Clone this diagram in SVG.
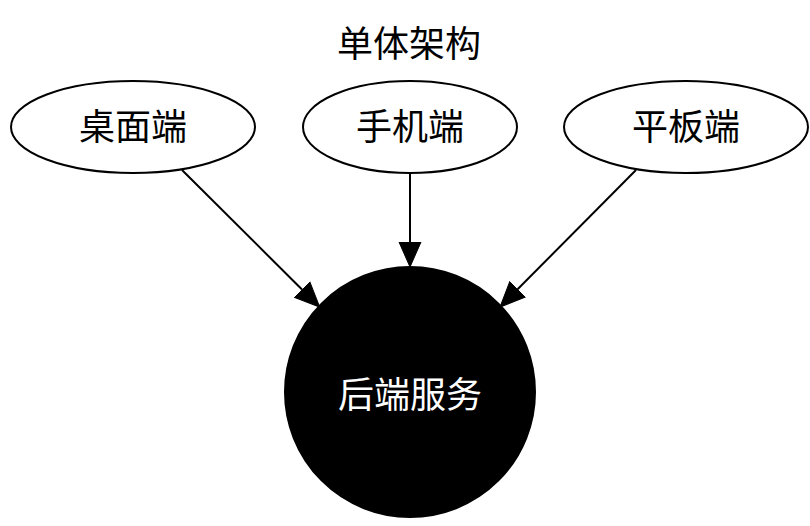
<svg xmlns="http://www.w3.org/2000/svg" width="810" height="526" viewBox="0 0 810 526">
<style>
.bg{fill:#fff}
.node ellipse{fill:#fff;stroke:#000;stroke-width:2}
.t{font-family:"Liberation Serif","Noto Sans CJK SC",serif;font-size:36px;text-anchor:middle;fill:#000}
.edge{fill:none;stroke:#000;stroke-width:2}
</style>
<defs>
<marker id="arr" markerUnits="userSpaceOnUse" markerWidth="26" markerHeight="24" refX="0" refY="12" orient="auto">
<path d="M0,1 L25,12 L0,23 z" fill="#000" stroke="#000" stroke-width="1"/>
</marker>
</defs>
<rect class="bg" width="810" height="526"/>
<text class="t" x="409" y="57">单体架构</text>
<g id="desktop" class="node"><ellipse cx="133" cy="127" rx="122" ry="46"/><text class="t" x="133" y="140">桌面端</text></g>
<g id="mobile" class="node"><ellipse cx="410" cy="127" rx="107" ry="46"/><text class="t" x="410" y="140">手机端</text></g>
<g id="tablet" class="node"><ellipse cx="686" cy="127" rx="122" ry="46"/><text class="t" x="686" y="140">平板端</text></g>
<g id="backend"><circle cx="410" cy="392" r="125" fill="#000" stroke="#000" stroke-width="2"/><text class="t" x="410" y="408" style="fill:#fff">后端服务</text></g>
<g id="edges">
<path class="edge" d="M182,170 L302,289.5" marker-end="url(#arr)"/>
<path class="edge" d="M410,173 L410,242" marker-end="url(#arr)"/>
<path class="edge" d="M636,170 L517.6,289.3" marker-end="url(#arr)"/>
</g>
</svg>
